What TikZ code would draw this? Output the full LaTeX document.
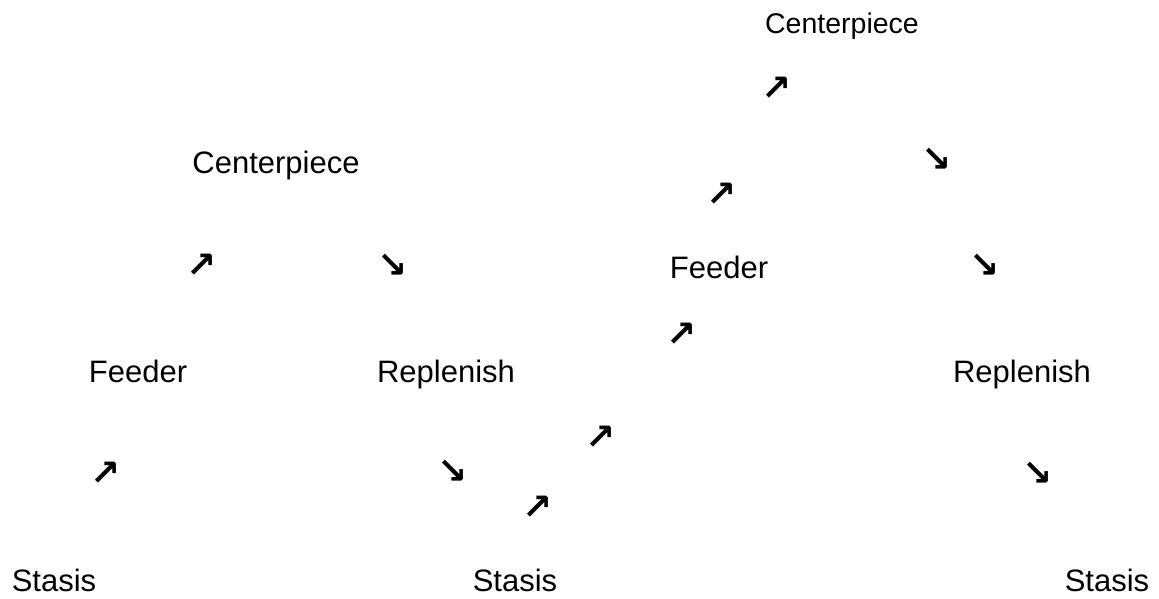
\documentclass[tikz,border=0pt]{standalone}
\usepackage{fontspec}
\setmainfont{Liberation Sans}
\newfontfamily\arrowfont{DejaVu Sans Bold}
\tikzset{
  lbl/.style={font=\fontsize{31}{36}\selectfont, inner sep=0pt, anchor=base},
  toplbl/.style={font=\fontsize{28.5}{34}\selectfont, inner sep=0pt, anchor=base},
  arr/.style={font=\arrowfont\fontsize{36}{40}\selectfont, inner sep=0pt, anchor=center},
}
\begin{document}
\begin{tikzpicture}[x=1pt,y=-1pt]
\useasboundingbox (0,0) rectangle (1159,598);
% labels
\node[toplbl] (c1) at (842,33) {Centerpiece};
\node[lbl] (c2) at (276,173) {Centerpiece};
\node[lbl] (f2) at (719,278) {Feeder};
\node[lbl] (f1) at (138,382) {Feeder};
\node[lbl] (r1) at (446,382) {Replenish};
\node[lbl] (r2) at (1022,382) {Replenish};
\node[lbl] (s1) at (54,591) {Stasis};
\node[lbl] (s2) at (515,591) {Stasis};
\node[lbl] (s3) at (1107,591) {Stasis};
% arrows
\node[arr] (a1) at (777,89) {↗};
\node[arr] (a2) at (937,160) {↘};
\node[arr] (a3) at (722,195) {↗};
\node[arr] (a4) at (202,266) {↗};
\node[arr] (a5) at (393,266) {↘};
\node[arr] (a6) at (985,266) {↘};
\node[arr] (a7) at (682,335) {↗};
\node[arr] (a8) at (601,438) {↗};
\node[arr] (a9) at (106,474) {↗};
\node[arr] (a10) at (453,472) {↘};
\node[arr] (a11) at (1038,474) {↘};
\node[arr] (a12) at (538,508) {↗};
\end{tikzpicture}
\end{document}
